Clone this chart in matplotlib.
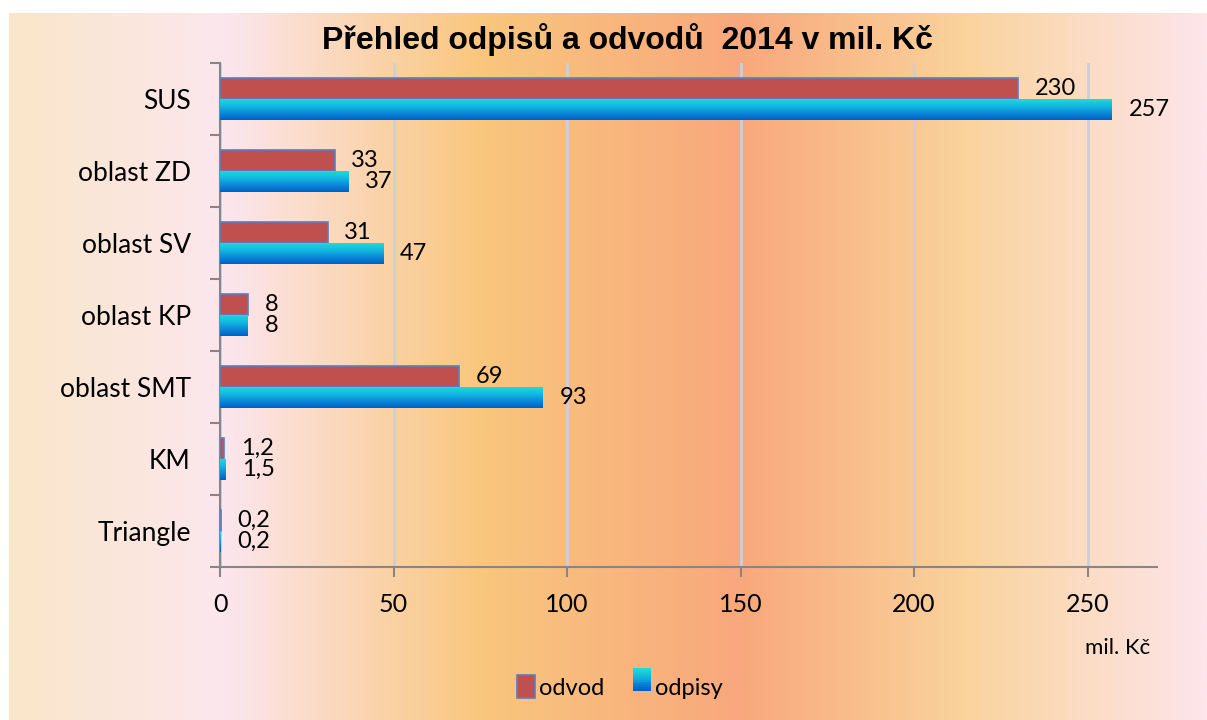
import numpy as np
import matplotlib
matplotlib.use('Agg')
import matplotlib.pyplot as plt
from matplotlib.colors import LinearSegmentedColormap
from matplotlib.patches import Rectangle
from matplotlib.legend_handler import HandlerBase

# data
categories = ['SUS', 'oblast ZD', 'oblast SV', 'oblast KP', 'oblast SMT', 'KM', 'Triangle']
odvod = [230, 33, 31, 8, 69, 1.2, 0.2]
odpisy = [257, 37, 47, 8, 93, 1.5, 0.2]
x_ticks = [0, 50, 100, 150, 200, 250]

title = 'Přehled odpisů a odvodů  2014 v mil. Kč'
unit = 'mil. Kč'

FONT = 'Lato'
red = '#C0504D'
grad = LinearSegmentedColormap.from_list('odpisy', ['#1CDCD6', '#12B8E0', '#0A8AD8', '#0060C8'])
bg = LinearSegmentedColormap.from_list('bg', [
    (0.0, '#FAE7C9'), (0.18, '#FCE6EE'), (0.39, '#F9C77E'),
    (0.61, '#F8A87C'), (0.80, '#FAD39C'), (1.0, '#FDE5EB')])


def fmt(v):
    # czech style decimal comma
    if float(v).is_integer():
        return str(int(v))
    return ('%g' % v).replace('.', ',')


class GradHandler(HandlerBase):
    # legend key drawn as stacked strips to fake the gradient
    def create_artists(self, legend, orig, xd, yd, w, h, fs, trans):
        n = 12
        out = []
        for i in range(n):
            r = Rectangle((xd, yd + h * (n - 1 - i) / n), w, h / n + 0.3,
                          facecolor=grad(i / (n - 1)), edgecolor='none', transform=trans)
            out.append(r)
        return out


fig = plt.figure(figsize=(12.07, 7.2), dpi=100)

# background gradient
bax = fig.add_axes([9 / 1207, 0, 1 - 9 / 1207, (720 - 13) / 720], zorder=-1)
bax.imshow(np.linspace(0, 1, 512)[None, :], aspect='auto', cmap=bg, extent=[0, 1, 0, 1])
bax.axis('off')

ax = fig.add_axes([220 / 1207, 1 - 567 / 720, (1157 - 220) / 1207, (567 - 63) / 720])
ax.set_facecolor('none')

y = np.arange(len(categories))
h = 0.29

ax.barh(y - h / 2, odvod, height=h, color=red, edgecolor='#5A7EC0', linewidth=1.2, zorder=3)
# gradient bars for odpisy
for yi, v in zip(y, odpisy):
    ax.imshow(np.linspace(0, 1, 64)[:, None], cmap=grad, aspect='auto',
              extent=(0, v, yi + h, yi), origin='upper', zorder=3)

for yi, v in zip(y, odvod):
    ax.annotate(fmt(v), (v, yi - h / 2), xytext=(12, 0), textcoords='offset points',
                va='center', ha='left', fontsize=17, family=FONT)
for yi, v in zip(y, odpisy):
    ax.annotate(fmt(v), (v, yi + h / 2), xytext=(12, 0), textcoords='offset points',
                va='center', ha='left', fontsize=17, family=FONT)

ax.set_xlim(0, 270)
ax.set_ylim(len(categories) - 0.5, -0.5)
ax.set_xticks(x_ticks)
ax.set_xticklabels([str(t) for t in x_ticks], fontsize=18, family=FONT)
ax.set_yticks(y)
ax.set_yticklabels(categories, fontsize=19, family=FONT)
ax.set_yticks(np.arange(len(categories) + 1) - 0.5, minor=True)
ax.tick_params(axis='y', which='major', length=0, pad=21)
ax.tick_params(axis='y', which='minor', length=7, width=1.5, color='#868686', direction='out')
ax.tick_params(axis='x', length=7, width=1.5, color='#868686', direction='out', pad=12)

ax.xaxis.grid(True, color='#CDCEDA', linewidth=2, zorder=0)
ax.set_axisbelow(True)
for s in ['top', 'right']:
    ax.spines[s].set_visible(False)
for s in ['left', 'bottom']:
    ax.spines[s].set_color('#868686')
    ax.spines[s].set_linewidth(1.5)

fig.text(628 / 1207, 1 - 40 / 720, title, ha='center', va='center',
         fontsize=23, fontweight='bold', family='Liberation Sans')
fig.text(1150 / 1207, 1 - 648 / 720, unit, ha='right', va='center', fontsize=16, family=FONT)

h1 = Rectangle((0, 0), 1, 1, facecolor=red, edgecolor='#5A7EC0', linewidth=1.2)
h2 = Rectangle((0, 0), 1, 1)
fig.legend([h1, h2], ['odvod', 'odpisy'], loc='center', bbox_to_anchor=(620 / 1207, 1 - 687 / 720),
           ncol=2, frameon=False, handlelength=0.75, handleheight=1.1, handletextpad=0.2,
           columnspacing=1.2, prop={'family': FONT, 'size': 17},
           handler_map={h2: GradHandler()})

fig.savefig('out.png', dpi=100)
